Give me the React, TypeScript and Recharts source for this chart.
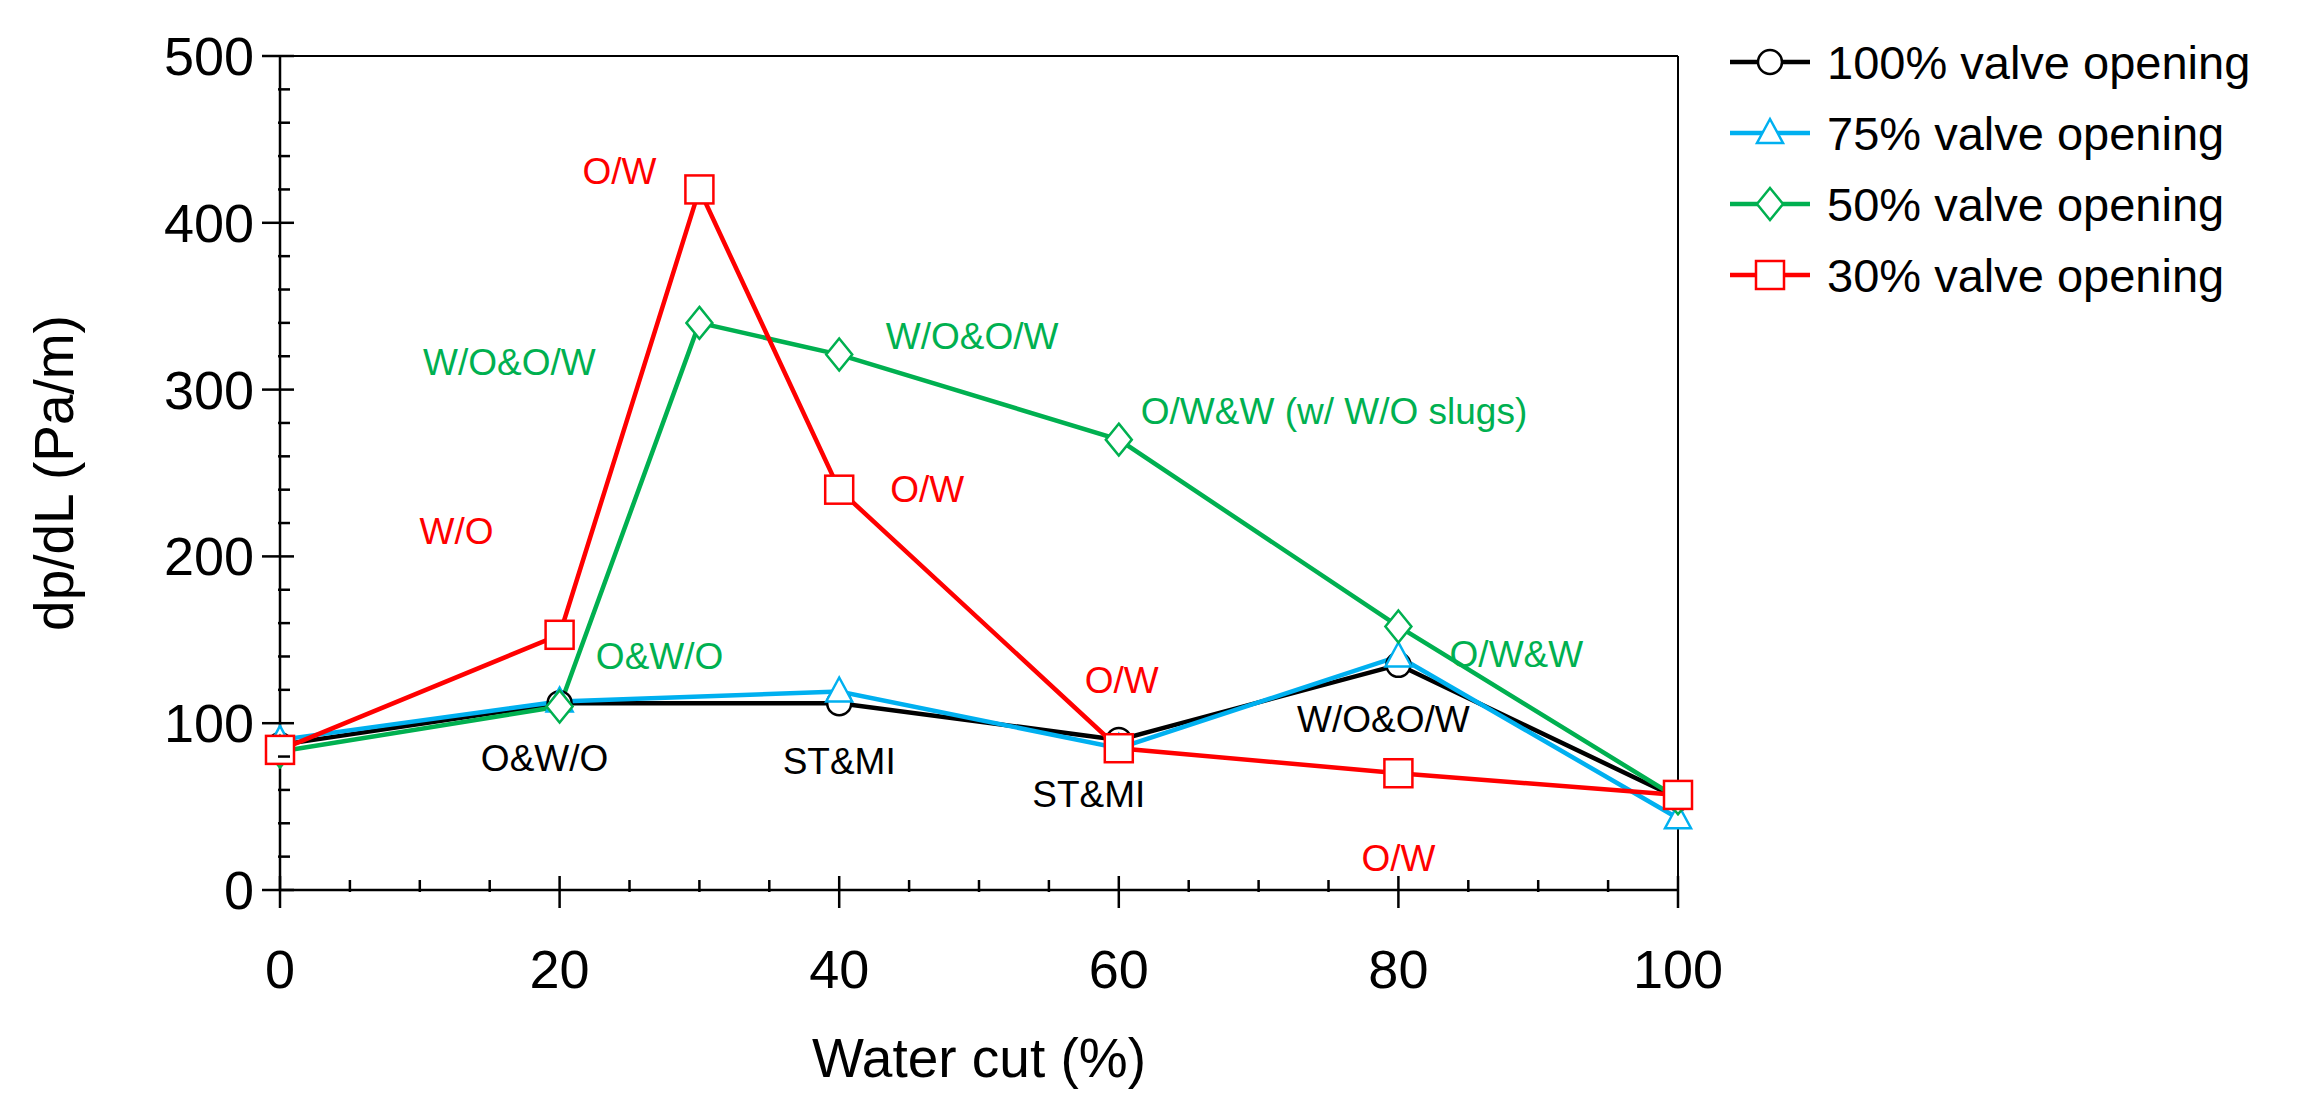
import React from 'react';
import {
  LineChart,
  Line,
  XAxis,
  YAxis,
  LabelList,
} from 'recharts';

const waterCut = [0, 20, 40, 60, 80, 100];
const waterCutFine = [0, 20, 30, 40, 60, 80, 100];

const open100 = [87, 112, 112, 90, 135, 55];
const open75 = [90, 113, 119, 85, 140, 43];
const open50 = [83, 110, 340, 321, 270, 158, 55];
const open30 = [84, 153, 420, 240, 85, 70, 57];

const labels100 = ['', 'O&W/O', 'ST&MI', 'ST&MI', 'W/O&O/W', ''];
const labels50 = ['', 'O&W/O', 'W/O&O/W', 'W/O&O/W', 'O/W&W (w/ W/O slugs)', 'O/W&W', ''];
const labels30 = ['', 'W/O', 'O/W', 'O/W', 'O/W', 'O/W', ''];

const xTicks = [0, 5, 10, 15, 20, 25, 30, 35, 40, 45, 50, 55, 60, 65, 70, 75, 80, 85, 90, 95, 100];
const yTicks = [0, 20, 40, 60, 80, 100, 120, 140, 160, 180, 200, 220, 240, 260, 280, 300, 320, 340, 360, 380, 400, 420, 440, 460, 480, 500];

const FONT = '"Liberation Sans", Arial, sans-serif';
const RED = '#ff0000';
const GREEN = '#00b050';
const BLUE = '#00b0f0';

const toRows = (xs: number[], ys: number[], labels?: string[]) =>
  xs.map((x, i) => ({ x, y: ys[i], label: labels ? labels[i] : '' }));

// label offsets (dx, dy, anchor) per point
const off100 = [null, [-15, 55, 'middle'], [0, 58, 'middle'], [-30, 55, 'middle'], [-15, 55, 'middle'], null];
const off50 = [null, [100, -50, 'middle'], [-190, 40, 'middle'], [133, -18, 'middle'], [22, -28, 'start'], [118, 28, 'middle'], null];
const off30 = [null, [-103, -103, 'middle'], [-80, -18, 'middle'], [88, 0, 'middle'], [3, -68, 'middle'], [0, 85, 'middle'], null];

const makeLabel = (offs: any[], color: string) => (props: any) => {
  const { x, y, value, index } = props;
  const o = offs[index];
  if (!o || !value) return null;
  return (
    <text x={x + o[0]} y={y + o[1]} textAnchor={o[2]} dominantBaseline="central"
      fill={color} fontSize={37} fontFamily={FONT}>{value}</text>
  );
};

const Circle = (p: any) => <circle cx={p.cx} cy={p.cy} r={12} fill="#fff" stroke="#000" strokeWidth={2.5} />;
const Tri = (p: any) => (
  <polygon points={`${p.cx},${p.cy - 14} ${p.cx - 13},${p.cy + 10} ${p.cx + 13},${p.cy + 10}`}
    fill="#fff" stroke={BLUE} strokeWidth={2.5} />
);
const Diamond = (p: any) => (
  <polygon points={`${p.cx},${p.cy - 16} ${p.cx + 13},${p.cy} ${p.cx},${p.cy + 16} ${p.cx - 13},${p.cy}`}
    fill="#fff" stroke={GREEN} strokeWidth={2.5} />
);
const Square = (p: any) => <rect x={p.cx - 14} y={p.cy - 14} width={28} height={28} fill="#fff" stroke={RED} strokeWidth={2.5} />;

const XTick = (props: any) => {
  const { x, y, payload } = props;
  const major = payload.value % 20 === 0;
  return (
    <g>
      <line x1={x} x2={x} y1={major ? y - 16 : y - 12} y2={major ? y + 16 : y} stroke="#000" strokeWidth={2.5} />
      {major && (
        <text x={x} y={y + 77} textAnchor="middle" dominantBaseline="central" fontSize={54} fontFamily={FONT} fill="#000">{payload.value}</text>
      )}
    </g>
  );
};

const YTick = (props: any) => {
  const { x, y, payload } = props;
  const major = payload.value % 100 === 0;
  return (
    <g>
      <line x1={major ? x - 16 : x} x2={major ? x + 16 : x + 12} y1={y} y2={y} stroke="#000" strokeWidth={2.5} />
      {major && (
        <text x={x - 24} y={y} textAnchor="end" dominantBaseline="central" fontSize={54} fontFamily={FONT} fill="#000">{payload.value}</text>
      )}
    </g>
  );
};

const legendItems = [
  { name: '100% valve opening', color: '#000', Marker: Circle },
  { name: '75% valve opening', color: BLUE, Marker: Tri },
  { name: '50% valve opening', color: GREEN, Marker: Diamond },
  { name: '30% valve opening', color: RED, Marker: Square },
];

export default function App() {
  return (
    <div style={{ width: 2301, height: 1094, background: '#fff' }}>
      <LineChart width={2301} height={1094} margin={{ top: 47, right: 630, bottom: 92, left: 122 }}>
        <XAxis xAxisId="b" type="number" dataKey="x" domain={[0, 100]} ticks={xTicks} interval={0}
          tick={<XTick />} tickLine={false} tickSize={0} height={120}
          axisLine={{ stroke: '#000', strokeWidth: 2.5 }} allowDuplicatedCategory={false} />
        <XAxis xAxisId="t" orientation="top" type="number" dataKey="x" domain={[0, 100]} tick={false}
          tickLine={false} height={1} axisLine={{ stroke: '#000', strokeWidth: 2 }} />
        <YAxis yAxisId="l" type="number" domain={[0, 500]} ticks={yTicks} interval={0}
          tick={<YTick />} tickLine={false} tickSize={0} width={150}
          axisLine={{ stroke: '#000', strokeWidth: 2.5 }} />
        <YAxis yAxisId="r" orientation="right" type="number" domain={[0, 500]} tick={false}
          tickLine={false} width={1} axisLine={{ stroke: '#000', strokeWidth: 2 }} />
        <Line xAxisId="b" yAxisId="l" data={toRows(waterCut, open100, labels100)} dataKey="y"
          stroke="#000" strokeWidth={4.5} dot={<Circle />} isAnimationActive={false} name="100% valve opening">
          <LabelList dataKey="label" content={makeLabel(off100, '#000')} />
        </Line>
        <Line xAxisId="b" yAxisId="l" data={toRows(waterCut, open75)} dataKey="y"
          stroke={BLUE} strokeWidth={4.5} dot={<Tri />} isAnimationActive={false} name="75% valve opening" />
        <Line xAxisId="b" yAxisId="l" data={toRows(waterCutFine, open50, labels50)} dataKey="y"
          stroke={GREEN} strokeWidth={4.5} dot={<Diamond />} isAnimationActive={false} name="50% valve opening">
          <LabelList dataKey="label" content={makeLabel(off50, GREEN)} />
        </Line>
        <Line xAxisId="b" yAxisId="l" data={toRows(waterCutFine, open30, labels30)} dataKey="y"
          stroke={RED} strokeWidth={4.5} dot={<Square />} isAnimationActive={false} name="30% valve opening">
          <LabelList dataKey="label" content={makeLabel(off30, RED)} />
        </Line>
        <g>
          {legendItems.map((it, i) => {
            const cy = 54 + i * 71;
            const M = it.Marker;
            return (
              <g key={it.name}>
                <line x1={1722} x2={1802} y1={cy} y2={cy} stroke={it.color} strokeWidth={4.5} />
                <M cx={1762} cy={cy} />
                <text x={1819} y={cy} dominantBaseline="central" fontSize={47} fontFamily={FONT} fill="#000">{it.name}</text>
              </g>
            );
          })}
        </g>
        <text x={971} y={1050} textAnchor="middle" dominantBaseline="central" fontSize={55} fontFamily={FONT} fill="#000">Water cut (%)</text>
        <text x={46} y={465} textAnchor="middle" dominantBaseline="central" fontSize={55} fontFamily={FONT} fill="#000"
          transform="rotate(-90 46 465)">dp/dL (Pa/m)</text>
      </LineChart>
    </div>
  );
}
